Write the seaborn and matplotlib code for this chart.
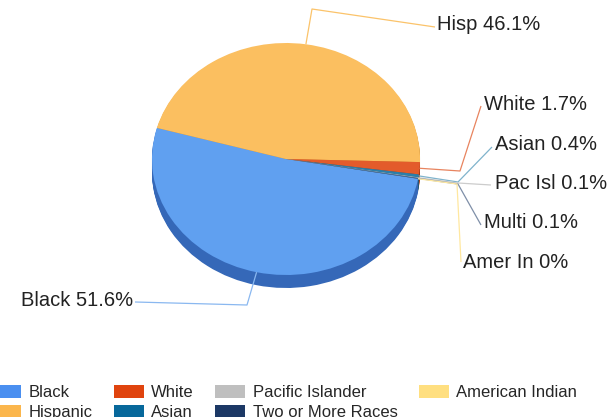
import matplotlib
matplotlib.use("Agg")
import matplotlib.pyplot as plt
import seaborn as sns
import numpy as np
from matplotlib.patches import Patch

# data
groups = ["Black", "Hispanic", "White", "Asian", "Pacific Islander",
          "Two or More Races", "American Indian"]
short_names = ["Black", "Hisp", "White", "Asian", "Pac Isl", "Multi", "Amer In"]
shares = [51.6, 46.1, 1.7, 0.4, 0.1, 0.1, 0.0]
share_labels = ["51.6%", "46.1%", "1.7%", "0.4%", "0.1%", "0.1%", "0%"]

legend_colors = ["#4a8ff0", "#fbb64c", "#e0440e", "#07689b", "#bfbfbf",
                 "#1c3865", "#ffdf80"]
face_colors = ["#60a0f0", "#fbbf60", "#e35b2b", "#2a7fab", "#c8c8c8",
               "#3a5a8a", "#ffe08a"]
side_colors = ["#3568b8", "#c88a30", "#a83a14", "#05507a", "#999999",
               "#142a4c", "#d8b860"]
line_colors = ["#8ab8f0", "#fbc36a", "#e8845f", "#7fb3cc", "#cccccc",
               "#7f8fa8", "#ffe8a0"]

# layout (pixels, from top-left of the 607x417 image)
W, H = 607, 417
sy = 116 / 134          # vertical squash of the tilted pie
cx_px, cy_px, r_px, depth_px = 286, 159, 134, 13
label_layout = {
    "Black":   ((247, 305), (135, 302), (133, 301), "right"),
    "Hisp":    ((312, 9), (435, 27), (437, 25), "left"),
    "White":   ((460, 171), (481, 106), (484, 104), "left"),
    "Asian":   ((458, 182), (492, 147), (495, 145), "left"),
    "Pac Isl": ((458, 183), (491, 185), (495, 184), "left"),
    "Multi":   ((458, 184), (481, 225), (484, 223), "left"),
    "Amer In": ((457, 184), (461, 262), (463, 262), "left"),
}


def to_data(px, py):
    return px, (H - py) / sy


sns.set_theme(style="white")
plt.rcParams["font.family"] = ["Liberation Sans", "DejaVu Sans"]

fig = plt.figure(figsize=(W / 100, H / 100), dpi=100)
ax = fig.add_axes([0, 0, 1, 1])

cx, cy = to_data(cx_px, cy_px)
depth = depth_px / sy

# side of the 3D pie
steps = 14
for k in range(steps, 0, -1):
    ax.pie(shares, colors=side_colors, startangle=350.2, counterclock=False,
           radius=r_px, center=(cx, cy - depth * k / steps),
           wedgeprops=dict(linewidth=0), frame=True)

# top face
wedges, _ = ax.pie(shares, colors=face_colors, startangle=350.2,
                   counterclock=False, radius=r_px, center=(cx, cy),
                   wedgeprops=dict(linewidth=0), frame=True)

# leader lines and labels
for w, name, lab, lc in zip(wedges, short_names, share_labels, line_colors):
    mid = np.deg2rad((w.theta1 + w.theta2) / 2)
    x0 = cx + r_px * np.cos(mid)
    y0 = cy + r_px * np.sin(mid)
    elbow, end, tpos, ha = label_layout[name]
    ex, ey = to_data(*elbow)
    nx, ny = to_data(*end)
    ax.plot([x0, ex, nx], [y0, ey, ny], color=lc, linewidth=0.9,
            solid_capstyle="butt", zorder=5)
    tx, ty = to_data(*tpos)
    ax.text(tx, ty, f"{name} {lab}", ha=ha, va="center",
            fontsize=14.5, color="#222222", zorder=6)

ax.set_xlim(0, W)
ax.set_ylim(0, H / sy)
ax.set_aspect("auto")
ax.axis("off")

handles = [Patch(facecolor=c, edgecolor="none") for c in legend_colors]
fig.legend(handles, groups, ncol=4, loc="upper left",
           bbox_to_anchor=(-9 / W, 1 - 385 / H), frameon=False,
           fontsize=12, handlelength=1.8, handleheight=0.8,
           handletextpad=0.45, columnspacing=1.28, labelspacing=0.3,
           borderpad=0, borderaxespad=0)

fig.savefig("out.png", dpi=100)
plt.close(fig)
